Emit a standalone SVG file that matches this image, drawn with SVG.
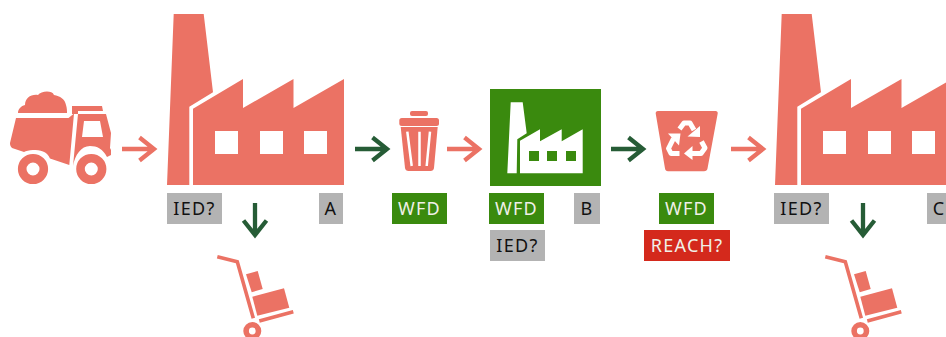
<svg xmlns="http://www.w3.org/2000/svg" xmlns:xlink="http://www.w3.org/1999/xlink" width="946" height="337" viewBox="0 0 946 337">
<style>
.s{fill:#eb7264}
.w{fill:#fff}
.t{font-family:"Noto Sans","Open Sans",sans-serif;font-size:18px;letter-spacing:1.3px;text-anchor:middle}
.g{fill:#b3b3b3}
.gt{fill:#111}
.lt{fill:#f0f0e8}
.a{fill:none;stroke-width:4.3}
.as{stroke:#eb7264}
.ad{stroke:#265c36}
</style>
<defs>
<g id="factory">
<path class="s" d="M173.7 14H203.7L213 92.3L189.3 106.7V185H167Z"/>
<path class="s" d="M193 108.7L243 79V108L293.5 79V108L344 79V185H193Z"/>
<rect class="w" x="215" y="131" width="23" height="23"/>
<rect class="w" x="260" y="131" width="23" height="23"/>
<rect class="w" x="304" y="131" width="23" height="23"/>
</g>
<g id="trolley">
<path d="M217.3 256.7L237.3 261.7L253.3 318.3M259.3 321L293.3 311.7" fill="none" stroke="#eb7264" stroke-width="3.6"/>
<path class="s" d="M252.3 296.7L284 288.3L289.3 307.7L257.3 315.7Z"/>
<path class="s" d="M246 274.3L257.7 271L262.7 289L251.7 292.3Z"/>
<circle cx="252.3" cy="331" r="6.2" fill="none" stroke="#eb7264" stroke-width="5.6"/>
</g>
<path id="arrow" class="a" d="M0 0H32M17.5 -11.5L32 0L17.5 11.5"/>
<path id="arrowDown" class="a" d="M0 0V32M-11.5 17.5L0 32L11.5 17.5"/>
</defs>

<g id="truck">
<path class="s" d="M18 113C18 109 21 106 25 105C25 98 31 94 38 95C41 91 52 90 54 95C60 96 65 99 66 105C67 108 67 111 67 113Z"/>
<path class="s" d="M16 118H68.5L74 113.5L69.3 165L50 158.5C47 151 40 150 33 150C29 150 26 151 24 152L12 148C10 146 10 144 10 143Z"/>
<path class="s" d="M72 106H102L103 111H78V114H72Z"/>
<path fill-rule="evenodd" class="s" d="M78 114H106L111 133L110 148L111 150V155L107 157C103 149 97 146 90 146C81 146 75 155 73 166Z M84 121L82 137H103L100 121Z"/>
<circle cx="33" cy="169" r="10.8" fill="none" stroke="#eb7264" stroke-width="8.6"/>
<circle cx="91.3" cy="169" r="10.8" fill="none" stroke="#eb7264" stroke-width="8.6"/>
</g>

<g id="factory-a">
<use xlink:href="#factory" href="#factory"/>
<rect class="g" x="167" y="193" width="55" height="31"/>
<text class="t gt" x="194.5" y="215">IED?</text>
<rect class="g" x="319" y="193" width="24" height="31"/>
<text class="t gt" x="331" y="215">A</text>
</g>

<g id="trolley-a"><use xlink:href="#trolley" href="#trolley"/></g>

<g id="bin">
<rect class="s" x="410" y="111" width="18" height="5" rx="2"/>
<rect class="s" x="399.3" y="118" width="39.7" height="8" rx="2.5"/>
<path class="s" d="M400.7 127H437.7L434 168Q433.5 171 430.5 171H408.5Q405.5 171 405 168Z"/>
<path d="M407.3 131.7L411.7 166M419.5 131.7V166M430 131.7L426.7 166" fill="none" stroke="#fff" stroke-width="2.5"/>
<rect x="392" y="193" width="55" height="31" fill="#3a8a0e"/>
<text class="t lt" x="419.5" y="215">WFD</text>
</g>

<g id="factory-b">
<rect x="490" y="89" width="111" height="97" fill="#3a8a0e"/>
<path class="w" d="M510.7 102.3H522.7L526.7 133.3L517.3 139.3L516.7 173.3H507.3Z"/>
<path class="w" d="M520 140.7L540 129.3V141.3L561.7 129.3V141.3L582.7 129.3V173.3H520Z"/>
<rect x="529" y="151" width="10" height="10" fill="#3a8a0e"/>
<rect x="547" y="151" width="10" height="10" fill="#3a8a0e"/>
<rect x="566" y="151" width="10" height="10" fill="#3a8a0e"/>
<rect x="489" y="193" width="55" height="31" fill="#3a8a0e"/>
<text class="t lt" x="516.5" y="215">WFD</text>
<rect class="g" x="574" y="193" width="26" height="31"/>
<text class="t gt" x="587" y="215">B</text>
<rect class="g" x="490" y="230" width="55" height="31"/>
<text class="t gt" x="517.5" y="252">IED?</text>
</g>

<g id="recycle">
<path class="s" d="M658 111H715.5Q718 111 717.7 113.5L707.5 168.5Q707 171.3 704 171.3H668Q665.5 171.3 665 168.5L655.7 113.5Q655.5 111 658 111Z"/>
<path d="M679.5 129L684 123H690L694 130M679.5 153.5H671L668.5 148.5L673.5 138.5M701.5 141.5L705 148L701 153.5H692" fill="none" stroke="#fff" stroke-width="5" stroke-linejoin="round"/>
<path class="w" d="M687.5 136.5L700 137L700 126Z"/>
<path class="w" d="M668 133.5L680.5 133.5L679 145.5Z"/>
<path class="w" d="M692.5 146L684 153.5L692.5 160Z"/>
<rect x="659" y="193" width="55" height="31" fill="#3a8a0e"/>
<text class="t lt" x="686.5" y="215">WFD</text>
<rect x="644" y="230" width="86" height="31" fill="#d4291c"/>
<text class="t lt" x="687" y="252">REACH?</text>
</g>

<g id="factory-c">
<use xlink:href="#factory" href="#factory" x="608"/>
<rect class="g" x="774" y="193" width="55" height="31"/>
<text class="t gt" x="801.5" y="215">IED?</text>
<rect class="g" x="927" y="193" width="24" height="31"/>
<text class="t gt" x="939" y="215">C</text>
</g>

<g id="trolley-c"><use xlink:href="#trolley" href="#trolley" x="608"/></g>

<g id="connectors">
<use xlink:href="#arrow" href="#arrow" class="as" x="122" y="149"/>
<use xlink:href="#arrow" href="#arrow" class="ad" x="355" y="149"/>
<use xlink:href="#arrow" href="#arrow" class="as" x="447" y="149"/>
<use xlink:href="#arrow" href="#arrow" class="ad" x="611" y="149"/>
<use xlink:href="#arrow" href="#arrow" class="as" x="731" y="149"/>
<use xlink:href="#arrowDown" href="#arrowDown" class="ad" x="255" y="203"/>
<use xlink:href="#arrowDown" href="#arrowDown" class="ad" x="863" y="203"/>
</g>
</svg>
